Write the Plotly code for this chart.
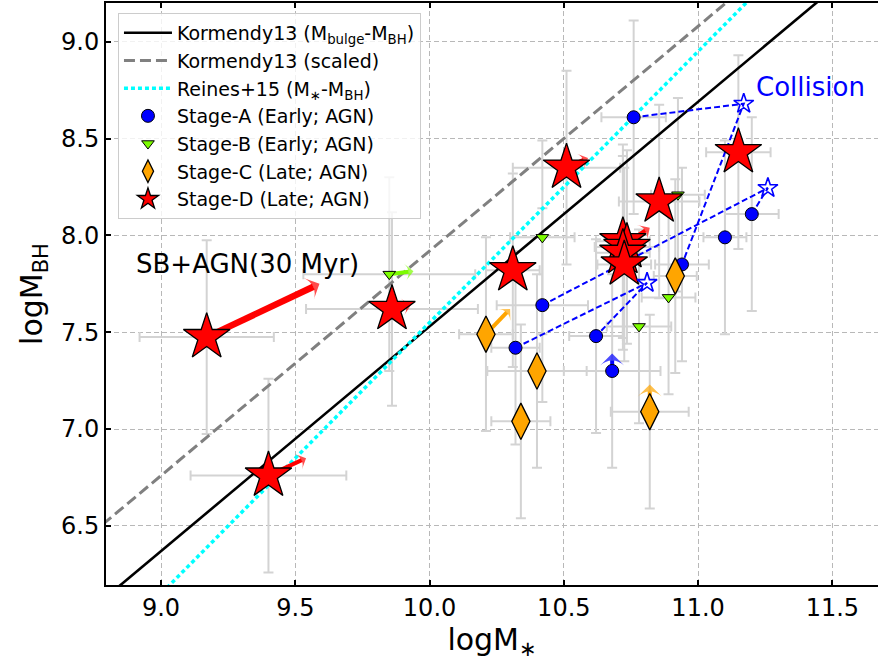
import plotly.graph_objects as go

# ---------------- data ----------------
# Stage-A (Early; AGN)
stageA_x = [10.76, 11.20, 11.10, 10.94, 10.42, 10.62, 10.32, 10.68]
stageA_y = [8.61, 8.11, 7.99, 7.85, 7.64, 7.48, 7.42, 7.30]
stageA_xerr = [0.12, 0.10, 0.08, 0.10, 0.17, 0.10, 0.09, 0.18]
stageA_yerr = [0.5, 0.5, 0.5, 0.5, 0.5, 0.5, 0.5, 0.5]

# Stage-B (Early; AGN)
stageB_x = [9.85, 10.42, 10.925, 10.78, 10.89]
stageB_y = [7.80, 7.99, 8.21, 7.53, 7.68]
stageB_xerr = [0.32, 0.12, 0.10, 0.12, 0.10]
stageB_yerr = [0.5, 0.5, 0.5, 0.5, 0.5]

# Stage-C (Late; AGN)
stageC_x = [10.21, 10.40, 10.34, 10.82, 10.915]
stageC_y = [7.49, 7.30, 7.04, 7.09, 7.79]
stageC_xerr = [0.10, 0.185, 0.11, 0.145, 0.08]
stageC_yerr = [0.5, 0.5, 0.5, 0.5, 0.5]

# Stage-D (Late; AGN)
stageD_x = [9.17, 9.40, 9.86, 10.31, 10.51, 10.855, 11.15, 10.72, 10.735, 10.72, 10.725]
stageD_y = [7.475, 6.76, 7.62, 7.82, 8.35, 8.175, 8.43, 7.97, 7.94, 7.91, 7.85]
stageD_xerr = [0.25, 0.29, 0.32, 0.10, 0.20, 0.15, 0.12, 0.10, 0.12, 0.10, 0.10]
stageD_yerr = [0.5, 0.5, 0.5, 0.5, 0.5, 0.5, 0.5, 0.5, 0.5, 0.5, 0.5]

# Collision products and their two progenitors
coll_x = [11.17, 11.26, 10.81]
coll_y = [8.68, 8.245, 7.755]
prog1_x = [10.76, 11.20, 10.32]
prog1_y = [8.61, 8.11, 7.42]
prog2_x = [10.94, 10.42, 10.62]
prog2_y = [7.85, 7.64, 7.48]

# Evolution arrows: tail -> head, colour, head size, shaft width
arrow_tail_x = [9.17, 9.40, 9.86, 10.51, 10.72, 9.85, 10.21, 10.82, 10.68]
arrow_tail_y = [7.475, 6.76, 7.62, 8.35, 7.95, 7.80, 7.49, 7.09, 7.30]
arrow_head_x = [9.59, 9.54, 9.93, 10.59, 10.82, 9.94, 10.30, 10.82, 10.68]
arrow_head_y = [7.75, 6.85, 7.64, 8.40, 8.04, 7.815, 7.62, 7.23, 7.39]
arrow_color = ["red", "red", "red", "red", "red", "lawngreen", "orange", "orange", "blue"]
arrow_head_size = [17, 12, 12, 12, 13, 12, 12, 17, 17]
arrow_shaft = [6.5, 4, 4, 4, 4, 4, 4, 4, 4]

# Scaling relations: logMBH = a + b (logM - 11)
kormendy_a, kormendy_b = 8.69, 1.16
scaled_offset = 0.39
reines_a, reines_b = 8.95, 1.40
rel_x = [8.6, 11.9]

x_range = [8.795, 11.67]
y_range = [6.195, 9.2]
tick_step = 0.5

FONT = "DejaVu Sans"
ERRC = "#d3d3d3"

fig = go.Figure()

# ---------------- error bars (drawn first, underneath) ----------------
for xs, ys, xe, ye in [(stageA_x, stageA_y, stageA_xerr, stageA_yerr),
                       (stageB_x, stageB_y, stageB_xerr, stageB_yerr),
                       (stageC_x, stageC_y, stageC_xerr, stageC_yerr),
                       (stageD_x, stageD_y, stageD_xerr, stageD_yerr)]:
    fig.add_trace(go.Scatter(
        x=xs, y=ys, mode="markers", marker=dict(size=1, opacity=0),
        error_x=dict(type="data", array=xe, color=ERRC, thickness=2, width=5),
        error_y=dict(type="data", array=ye, color=ERRC, thickness=2, width=5),
        showlegend=False, hoverinfo="skip"))

# ---------------- relations ----------------
def rel(a, b, off=0.0):
    return [a + off + b * (v - 11.0) for v in rel_x]

fig.add_trace(go.Scatter(x=rel_x, y=rel(kormendy_a, kormendy_b), mode="lines",
                         line=dict(color="black", width=2.6),
                         name="Kormendy13 (M<sub>bulge</sub>-M<sub>BH</sub>)", legendrank=1))
fig.add_trace(go.Scatter(x=rel_x, y=rel(kormendy_a, kormendy_b, scaled_offset), mode="lines",
                         line=dict(color="gray", width=3, dash="11px,5px"),
                         name="Kormendy13 (scaled)", legendrank=2))
fig.add_trace(go.Scatter(x=rel_x, y=rel(reines_a, reines_b), mode="lines",
                         line=dict(color="cyan", width=3.5, dash="4px,3px"),
                         name="Reines+15 (M<sub>∗</sub>-M<sub>BH</sub>)", legendrank=3))

# ---------------- arrows ----------------
for tx, ty, hx, hy, c, hs, sw in zip(arrow_tail_x, arrow_tail_y, arrow_head_x, arrow_head_y,
                                     arrow_color, arrow_head_size, arrow_shaft):
    fig.add_trace(go.Scatter(
        x=[tx, hx], y=[ty, hy], mode="lines+markers",
        line=dict(color=c, width=sw),
        marker=dict(symbol=["circle", "arrow-wide"], size=[0, hs],
                    angleref="previous", color=c, line=dict(width=0)),
        showlegend=False, hoverinfo="skip"))

# ---------------- collision tracks ----------------
for cx, cy, p1x, p1y, p2x, p2y in zip(coll_x, coll_y, prog1_x, prog1_y, prog2_x, prog2_y):
    fig.add_trace(go.Scatter(x=[p1x, cx, p2x], y=[p1y, cy, p2y], mode="lines",
                             line=dict(color="blue", width=2, dash="6px,3px"),
                             showlegend=False, hoverinfo="skip"))

# ---------------- stage markers ----------------
fig.add_trace(go.Scatter(x=stageA_x, y=stageA_y, mode="markers", name="Stage-A (Early; AGN)",
                         marker=dict(symbol="circle", size=13, color="blue",
                                     line=dict(color="black", width=1)), legendrank=4))
fig.add_trace(go.Scatter(x=stageB_x, y=stageB_y, mode="markers", name="Stage-B (Early; AGN)",
                         marker=dict(symbol="triangle-down", size=11, color="lawngreen",
                                     line=dict(color="black", width=1)), legendrank=5))
fig.add_trace(go.Scatter(x=stageC_x, y=stageC_y, mode="markers", name="Stage-C (Late; AGN)",
                         marker=dict(symbol="diamond-tall", size=26, color="orange",
                                     line=dict(color="black", width=1.3)), legendrank=6))
fig.add_trace(go.Scatter(x=stageD_x, y=stageD_y, mode="markers", name="Stage-D (Late; AGN)",
                         marker=dict(symbol="star", size=35, color="red",
                                     line=dict(color="black", width=1.3)), legendrank=7))
fig.add_trace(go.Scatter(x=coll_x, y=coll_y, mode="markers", showlegend=False,
                         marker=dict(symbol="star-open", size=15, color="blue",
                                     line=dict(color="blue", width=1.6))))

# ---------------- text ----------------
fig.add_annotation(x=11.21, y=8.766, text="Collision", showarrow=False, xanchor="left",
                   yanchor="middle", font=dict(family=FONT, size=26, color="blue"))
fig.add_annotation(x=8.90, y=7.855, text="SB+AGN(30 Myr)", showarrow=False, xanchor="left",
                   yanchor="middle", font=dict(family=FONT, size=26, color="black"))

axis_common = dict(showgrid=True, gridcolor="#b8b8b8", griddash="5px,3px", gridwidth=1,
                   zeroline=False, showline=True, linecolor="black", linewidth=2,
                   ticks="inside", ticklen=5, tickwidth=1.5, tickcolor="black",
                   tickmode="linear", dtick=tick_step, tickformat=".1f",
                   tickfont=dict(family=FONT, size=24, color="black"))

fig.update_layout(
    width=878, height=664,
    margin=dict(l=106, r=0, t=3, b=79),
    plot_bgcolor="white", paper_bgcolor="white",
    font=dict(family=FONT, color="black"),
    xaxis=dict(range=x_range, tick0=9.0, mirror="ticks",
               title=dict(text="logM<sub>∗</sub>", font=dict(family=FONT, size=30), standoff=8),
               **axis_common),
    yaxis=dict(range=y_range, tick0=6.5,
               title=dict(text="logM<sub>BH</sub>", font=dict(family=FONT, size=30), standoff=10),
               **axis_common),
    legend=dict(x=0.0155, y=0.983, xanchor="left", yanchor="top", itemwidth=48,
                bgcolor="rgba(255,255,255,0.8)", bordercolor="#cccccc", borderwidth=1,
                font=dict(family=FONT, size=19, color="black"), tracegroupgap=0),
    showlegend=True,
)

fig.write_html("out.html", config={"displayModeBar": False})
